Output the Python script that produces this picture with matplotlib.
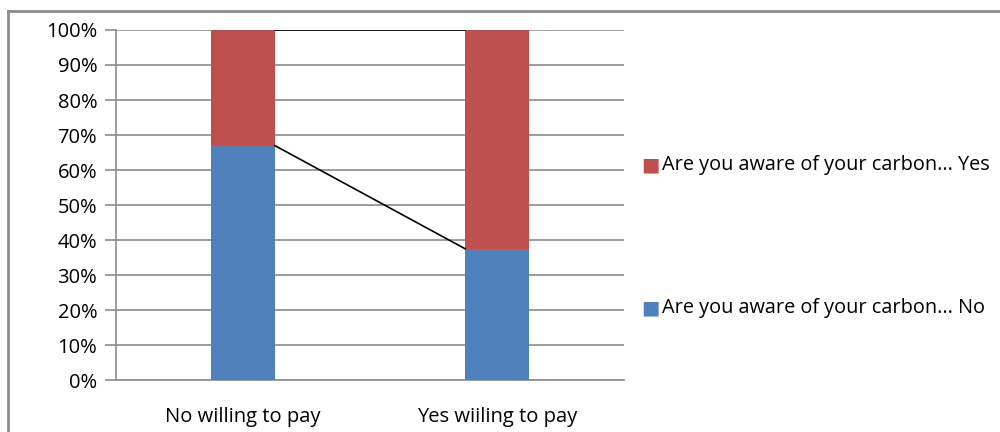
import matplotlib
matplotlib.use('Agg')
import matplotlib.pyplot as plt
from matplotlib.lines import Line2D
import numpy as np

# data
categories = ['No willing to pay', 'Yes wiiling to pay']
aware_no = [67.0, 37.5]
aware_yes = [33.0, 62.5]
series_names = ['Are you aware of your carbon... No', 'Are you aware of your carbon... Yes']
yticks = [0, 10, 20, 30, 40, 50, 60, 70, 80, 90, 100]

blue = '#4f81bd'
red = '#c0504d'
grid_col = '#8c8c8c'

plt.rcParams['font.family'] = ['Open Sans', 'DejaVu Sans']

fig = plt.figure(figsize=(10, 4.32), dpi=100)
ax = fig.add_axes([0.116, 0.12, 0.508, 0.8106])

x = np.arange(len(categories))
bw = 0.25
ax.bar(x, aware_no, width=bw, color=blue, zorder=3)
ax.bar(x, aware_yes, width=bw, bottom=aware_no, color=red, zorder=3)

# series lines between the stacks
tops_no = np.array(aware_no)
tops_yes = np.array(aware_no) + np.array(aware_yes)
ax.plot([x[0] + bw / 2, x[1] - bw / 2], [tops_no[0], tops_no[1]], color='black', lw=1.2, zorder=4)
ax.plot([x[0] + bw / 2, x[1] - bw / 2], [tops_yes[0], tops_yes[1]], color='black', lw=1.2, zorder=4)

ax.set_xlim(-0.5, 1.5)
ax.set_ylim(0, 100)
ax.set_yticks(yticks)
ax.set_yticklabels([f'{v}%' for v in yticks], fontsize=14.5)
ax.set_xticks(x)
ax.set_xticklabels(categories, fontsize=14.5)
ax.tick_params(axis='x', length=0, pad=19)
ax.tick_params(axis='y', length=8, width=1.2, color=grid_col, pad=5.5)
ax.yaxis.grid(True, color=grid_col, lw=1.2, zorder=0)

for s in ['top', 'right']:
    ax.spines[s].set_visible(False)
ax.spines['left'].set_color(grid_col)
ax.spines['left'].set_linewidth(1.2)
ax.spines['bottom'].set_color(grid_col)
ax.spines['bottom'].set_linewidth(1.2)

# legend entries (Yes on top, No below)
fig.text(0.641, 1 - 165 / 432, '\u25a0', color=red, fontsize=14, va='center', ha='left')
fig.text(0.662, 1 - 165 / 432, series_names[1], fontsize=14.3, va='center', ha='left')
fig.text(0.641, 1 - 308 / 432, '\u25a0', color=blue, fontsize=14, va='center', ha='left')
fig.text(0.662, 1 - 308 / 432, series_names[0], fontsize=14.3, va='center', ha='left')

# outer chart border (top and left visible)
fig.add_artist(Line2D([0.008, 1.0], [1 - 11 / 432, 1 - 11 / 432], color='#8c8c8c', lw=2, transform=fig.transFigure))
fig.add_artist(Line2D([0.008, 0.008], [0, 1 - 11 / 432], color='#8c8c8c', lw=2, transform=fig.transFigure))

fig.savefig('out.png', dpi=100)
